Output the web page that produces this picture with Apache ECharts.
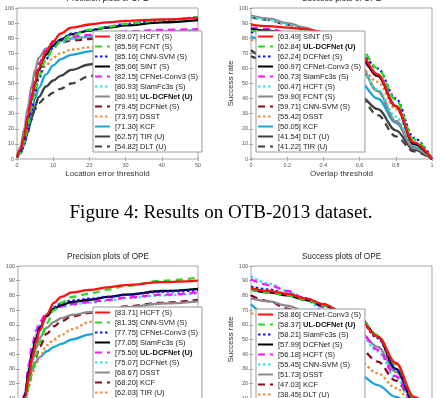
<!DOCTYPE html>
<html>
<head>
<meta charset="utf-8">
<script src="https://cdn.jsdelivr.net/npm/echarts@6/dist/echarts.min.js"></script>
<style>
html, body { margin: 0; background: #fff; }
#main { width: 442px; height: 398px; }
</style>
</head>
<body>
<div id="main"></div>
<script>
// thresholds
var precX = [0, 1, 2, 3, 4, 5, 6, 8, 10, 12, 15, 20, 25, 30, 40, 50];
var succX = [0, 0.1, 0.2, 0.3, 0.4, 0.5, 0.6, 0.7, 0.8, 0.9, 1];

// OTB-2013 precision
var p13Names = ['[89.07] HCFT (S)', '[85.59] FCNT (S)', '[85.16] CNN-SVM (S)', '[85.06] SINT (S)',
  '[82.15] CFNet-Conv3 (S)', '[80.93] SiamFc3s (S)', '[80.91] UL-DCFNet (U)', '[79.45] DCFNet (S)',
  '[73.97] DSST', '[71.30] KCF', '[62.57] TIR (U)', '[54.82] DLT (U)'];
var p13Values = [
  [1, 6, 15, 28, 40, 51, 60, 71, 78, 83, 87, 89.07, 90.5, 91.5, 92.5, 93.5],
  [1, 4, 11, 22, 34, 45, 55, 66, 73, 78, 82, 85.59, 87.5, 89.5, 92, 94],
  [1, 4, 10, 20, 32, 44, 54, 66, 74, 79, 83, 85.16, 87.5, 89.5, 92, 94],
  [1, 5, 14, 26, 39, 50, 59, 69, 75, 79, 82.5, 85.06, 87, 88.5, 90.5, 92],
  [1, 6, 16, 29, 42, 53, 62, 72, 77, 79.5, 81, 82.15, 83.5, 84.5, 85.5, 86],
  [1, 5, 13, 25, 38, 49, 58, 68, 74, 77, 79.5, 80.93, 82, 83, 84.5, 85.5],
  [2, 8, 20, 34, 48, 59, 67, 73, 76, 78, 79.8, 80.91, 82, 83, 84.5, 85.5],
  [1, 7, 18, 31, 44, 55, 63, 71, 75, 77, 78.5, 79.45, 81, 82.5, 84, 85],
  [1, 5, 13, 24, 35, 45, 53, 62, 67, 70, 72.5, 73.97, 75, 76, 77, 78],
  [1, 4, 11, 21, 31, 40, 47, 56, 62, 66, 69, 71.30, 73.5, 75.5, 78, 80],
  [1, 4, 10, 18, 27, 35, 41, 48, 52, 55, 59, 62.57, 65, 66.5, 68.5, 70],
  [1, 4, 10, 18, 26, 33, 37, 41, 44, 46.5, 50, 54.82, 58, 61, 65, 68]
];

// OTB-2013 success
var s13Names = ['[63.49] SINT (S)', '[62.84] UL-DCFNet (U)', '[62.24] DCFNet (S)', '[60.97] CFNet-Conv3 (S)',
  '[60.73] SiamFc3s (S)', '[60.47] HCFT (S)', '[59.90] FCNT (S)', '[59.71] CNN-SVM (S)',
  '[55.42] DSST', '[50.05] KCF', '[41.54] DLT (U)', '[41.22] TIR (U)'];
var s13Values = [
  [89, 88, 87, 86, 84, 79, 70, 56, 35, 11, 0],
  [85, 84, 82, 80, 78, 76, 74, 60, 39, 13, 0],
  [84, 83, 81, 79, 76, 74, 71, 60, 40, 14, 0],
  [86, 85, 83, 80, 77, 73, 68, 55, 35, 10, 0],
  [87, 86, 84, 81, 77, 72, 67, 55, 35, 10, 0],
  [94, 92, 89, 85, 79, 70, 60, 46, 28, 9, 0],
  [95, 93, 90, 87, 82, 73, 62, 45, 25, 7, 0],
  [94, 92, 89, 86, 81, 72, 61, 45, 25, 7, 0],
  [79, 77, 74, 71, 68, 65, 61, 51, 33, 11, 0],
  [81, 78, 74, 69, 63, 57, 51, 40, 24, 8, 0],
  [72, 66, 61, 56, 51, 46, 42, 33, 19, 6, 0],
  [68, 65, 62, 58, 54, 49, 41, 29, 15, 5, 0]
];

// OTB-2015 precision
var p15Names = ['[83.71] HCFT (S)', '[81.35] CNN-SVM (S)', '[77.75] CFNet-Conv3 (S)', '[77.05] SiamFc3s (S)',
  '[75.50] UL-DCFNet (U)', '[75.07] DCFNet (S)', '[68.67] DSST', '[68.20] KCF', '[62.03] TIR (U)', '[53.50] DLT (U)'];
var p15Values = [
  [0, 3, 11, 25, 38, 48, 56, 67, 75, 79, 82, 83.71, 85.5, 87, 89, 90],
  [0, 2, 8, 18, 29, 39, 48, 61, 70, 75, 79, 81.35, 84, 86.5, 90, 92],
  [0, 3, 12, 27, 40, 50, 58, 67, 72, 74.5, 76.5, 77.75, 79, 80.5, 82.5, 83.5],
  [0, 3, 13, 29, 42, 51, 58, 66, 71, 73.5, 75.5, 77.05, 79, 80.5, 83, 84.5],
  [0, 4, 15, 33, 47, 56, 62, 68, 71, 72.5, 74, 75.50, 77, 78.5, 80.5, 82],
  [0, 4, 14, 31, 44, 53, 60, 67, 70.5, 72, 73.8, 75.07, 76.5, 78, 80, 81.5],
  [0, 3, 11, 25, 36, 44, 51, 58, 62, 64.5, 66.7, 68.67, 70.5, 72, 74.5, 76],
  [0, 2, 8, 19, 30, 38, 45, 54, 59, 62.5, 65.7, 68.20, 70.5, 72.5, 75, 77],
  [0, 2, 8, 18, 27, 33, 38, 46, 50, 53, 57, 62.03, 64.5, 66.5, 69, 71],
  [0, 2, 12, 22, 30, 35, 38, 42, 45, 47, 50, 53.5, 56, 58.5, 62, 65]
];

// OTB-2015 success
var s15Names = ['[58.86] CFNet-Conv3 (S)', '[58.37] UL-DCFNet (U)', '[58.21] SiamFc3s (S)', '[57.99] DCFNet (S)',
  '[56.18] HCFT (S)', '[55.45] CNN-SVM (S)', '[51.73] DSST', '[47.03] KCF', '[38.45] DLT (U)', '[34.70] TIR (U)'];
var s15Values = [
  [85, 83, 81, 78, 74, 69, 63, 52, 34, 11, 0],
  [84, 82, 80, 77, 73, 68, 64, 53, 33, 10, 0],
  [86, 84, 81, 78, 74, 69, 63, 51, 30, 9, 0],
  [84, 82, 80, 77, 73, 69, 65, 52, 30, 8, 0],
  [91, 87, 83, 78, 72, 65, 56, 43, 25, 7, 0],
  [93, 88, 83, 77, 70, 63, 54, 42, 24, 7, 0],
  [78, 76, 73, 69, 64, 59, 55, 45, 28, 9, 0],
  [80, 76, 71, 65, 58, 51, 44, 35, 22, 8, 0],
  [68, 64, 59, 53, 47, 41, 35, 27, 17, 6, 0],
  [74, 66, 58, 50, 42, 34, 26, 19, 11, 4, 0]
];

// line styles by rank (same order in all four plots)
var DOT = [2.5, 2.5], DASH = [7, 5];
var lineStyles = [
  ['#ff1010', 'solid'], ['#22dd22', DASH], ['#1010f0', DOT], ['#000000', 'solid'],
  ['#ff10ff', DASH], ['#20e8e8', DOT], ['#8a8a8a', 'solid'], ['#8a0a1e', DASH],
  ['#f28a3c', DOT], ['#1ba3e0', 'solid'], ['#404040', 'solid'], ['#404040', DASH]
];

var FRAME = '#a6a6a6';
var opt = { animation: false, title: [], legend: [], grid: [], xAxis: [], yAxis: [], series: [], graphic: [] };

function addPlot(k, box, xs, names, values, xr, title, xName, yName, yGap, legPos) {
  opt.grid.push({
    left: box[0], top: box[1], width: box[2], height: box[3], outerBoundsMode: 'none',
    containLabel: false, show: true, borderColor: FRAME, borderWidth: 1
  });
  opt.title.push({
    text: title, left: box[0] + box[2] / 2, top: box[1] - 13, textAlign: 'center', padding: 0,
    textStyle: { fontSize: 8.2, fontWeight: 'normal', color: '#222', fontFamily: 'Liberation Sans' }
  });
  var tick = { show: true, inside: true, length: 2, lineStyle: { color: FRAME } };
  var lab = { fontSize: 5.5, color: '#555', margin: 3, fontFamily: 'Liberation Sans' };
  var nameStyle = { fontSize: 8, color: '#333', fontFamily: 'Liberation Sans' };
  opt.xAxis.push({
    type: 'value', gridIndex: k, min: xr[0], max: xr[1], interval: xr[2], position: 'bottom',
    name: xName, nameLocation: 'middle', nameGap: 11, nameTextStyle: nameStyle,
    axisLine: { show: false }, axisTick: tick, splitLine: { show: false }, axisLabel: lab
  });
  opt.xAxis.push({
    type: 'value', gridIndex: k, min: xr[0], max: xr[1], interval: xr[2], position: 'top',
    axisLine: { show: false }, axisTick: tick, splitLine: { show: false }, axisLabel: { show: false }
  });
  opt.yAxis.push({
    type: 'value', gridIndex: k, min: 0, max: 100, interval: 10, position: 'left',
    name: yName, nameLocation: 'middle', nameGap: yGap, nameTextStyle: nameStyle,
    axisLine: { show: false }, axisTick: tick, splitLine: { show: false }, axisLabel: lab
  });
  opt.yAxis.push({
    type: 'value', gridIndex: k, min: 0, max: 100, interval: 10, position: 'right',
    axisLine: { show: false }, axisTick: tick, splitLine: { show: false }, axisLabel: { show: false }
  });
  for (var i = 0; i < names.length; i++) {
    var st = lineStyles[i];
    opt.series.push({
      type: 'line', name: names[i], xAxisIndex: 2 * k, yAxisIndex: 2 * k,
      data: xs.map(function (x, j) { return [x, values[i][j]]; }),
      symbol: 'none', showSymbol: false, smooth: 0.35, smoothMonotone: 'x',
      lineStyle: { color: st[0], width: 2.3, type: st[1], cap: 'butt' },
      itemStyle: { color: st[0] },
      emphasis: { disabled: true }, z: 3 + (names.length - i) / 100
    });
  }
  opt.legend.push({
    data: names, orient: 'vertical', left: legPos[0], top: legPos[1], height: 140,
    itemWidth: 15, itemHeight: 8, itemGap: 1, padding: [1, 4, 1, 1],
    itemStyle: { opacity: 0 },
    backgroundColor: '#fff', borderColor: '#9a9a9a', borderWidth: 1, z: 10,
    selectedMode: false,
    formatter: function (n) {
      var p = n.indexOf('UL-DCFNet');
      return p < 0 ? n : n.slice(0, p) + '{b|' + n.slice(p) + '}';
    },
    textStyle: {
      fontSize: 7.5, color: '#222', lineHeight: 9, fontFamily: 'Liberation Sans',
      rich: { b: { fontSize: 7.5, fontWeight: 'bold', lineHeight: 9, fontFamily: 'Liberation Sans', color: '#111' } }
    }
  });
}

addPlot(0, [17, 8, 181, 151], precX, p13Names, p13Values, [0, 50, 10],
  'Precision plots of OPE', 'Location error threshold', 'Precision', 17, [93, 31]);
addPlot(1, [251, 8, 181, 151], succX, s13Names, s13Values, [0, 1, 0.2],
  'Success plots of OPE', 'Overlap threshold', 'Success rate', 15, [256, 31]);
addPlot(2, [18, 266, 180, 147], precX, p15Names, p15Values, [0, 50, 10],
  'Precision plots of OPE', 'Location error threshold', 'Precision', 17, [93, 307]);
addPlot(3, [251, 266, 181, 147], succX, s15Names, s15Values, [0, 1, 0.2],
  'Success plots of OPE', 'Overlap threshold', 'Success rate', 15, [256, 309]);

opt.graphic.push({
  type: 'text', left: 'center', top: 204,
  style: { text: 'Figure 4: Results on OTB-2013 dataset.', font: '19px "Liberation Serif"', fill: '#000' }
});

var chart = echarts.init(document.getElementById('main'), null, { renderer: 'canvas' });
chart.setOption(opt);
</script>
</body>
</html>
